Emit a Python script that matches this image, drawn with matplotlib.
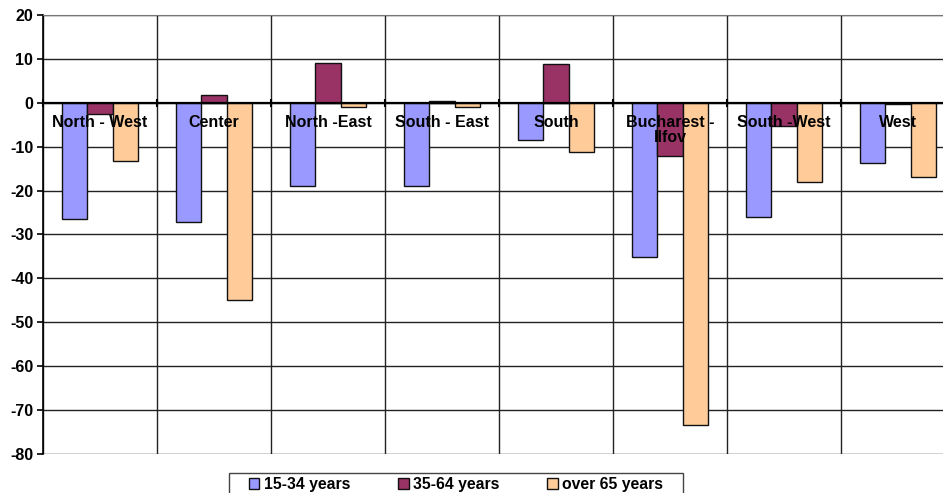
import matplotlib
matplotlib.use("Agg")
import matplotlib.pyplot as plt
from matplotlib.patches import Rectangle
import numpy as np

# Change by region and age group
regions = ["North - West", "Center", "North -East", "South - East", "South",
           "Bucharest -\nIlfov", "South -West", "West"]
age_groups = ["15-34 years", "35-64 years", "over 65 years"]
young = [-26.4, -27.1, -18.9, -18.9, -8.5, -35.1, -25.9, -13.7]
middle = [-2.5, 1.8, 9.1, 0.3, 8.8, -12.1, -5.2, -0.3]
old = [-13.2, -44.9, -1.0, -1.0, -11.1, -73.4, -18.1, -16.9]
yticks = [20, 10, 0, -10, -20, -30, -40, -50, -60, -70, -80]

colors = ["#9999FF", "#993366", "#FFCC99"]

plt.rcParams["font.family"] = ["Liberation Sans", "DejaVu Sans"]
plt.rcParams["axes.unicode_minus"] = False

fig = plt.figure(figsize=(9.43, 4.93), dpi=100)
ax = fig.add_axes([43 / 943, 39 / 493, 912 / 943, 439 / 493])

x = np.arange(len(regions))
w = 0.22
for k, (vals, c, name) in enumerate(zip([young, middle, old], colors, age_groups)):
    ax.bar(x + (k - 1) * w, vals, w, color=c, edgecolor="#111111",
           linewidth=1.0, label=name, zorder=3)

ax.set_xlim(-0.5, len(regions) - 0.5)
ax.set_ylim(-80, 20)
ax.set_yticks(yticks)
ax.set_yticklabels([str(v) for v in yticks], fontsize=11.5, fontweight="bold")
ax.set_xticks(np.arange(len(regions) + 1) - 0.5)
ax.set_xticklabels([])
ax.grid(True, color="#222222", linewidth=1.0, zorder=1)

# zero line acts as the category axis
ax.spines["bottom"].set_position(("data", 0))
ax.spines["bottom"].set_linewidth(1.6)
ax.spines["bottom"].set_zorder(4)
ax.spines["top"].set_color("#777777")
ax.spines["right"].set_visible(False)
ax.spines["left"].set_linewidth(1.2)
ax.tick_params(axis="x", direction="inout", length=6, width=1.5)
ax.tick_params(axis="y", length=4, width=1.2, pad=3)

for i, name in enumerate(regions):
    ax.text(i, -2.7, name, ha="center", va="top", fontsize=11.5,
            fontweight="bold", zorder=5, linespacing=1.0)

# legend with a wide box that runs off the bottom edge
fig.legend(loc="upper center", bbox_to_anchor=(456 / 943, 21 / 493),
           ncol=3, frameon=False, prop={"weight": "bold", "size": 11.3},
           handlelength=0.7, handleheight=0.7, handletextpad=0.3,
           columnspacing=3.0, borderpad=0.3, borderaxespad=0)
fig.add_artist(Rectangle((229 / 943, -0.02), 454 / 943, 20 / 493 + 0.02,
                         transform=fig.transFigure, fill=False,
                         edgecolor="#444444", linewidth=1.0))

fig.savefig("out.png", dpi=100)
